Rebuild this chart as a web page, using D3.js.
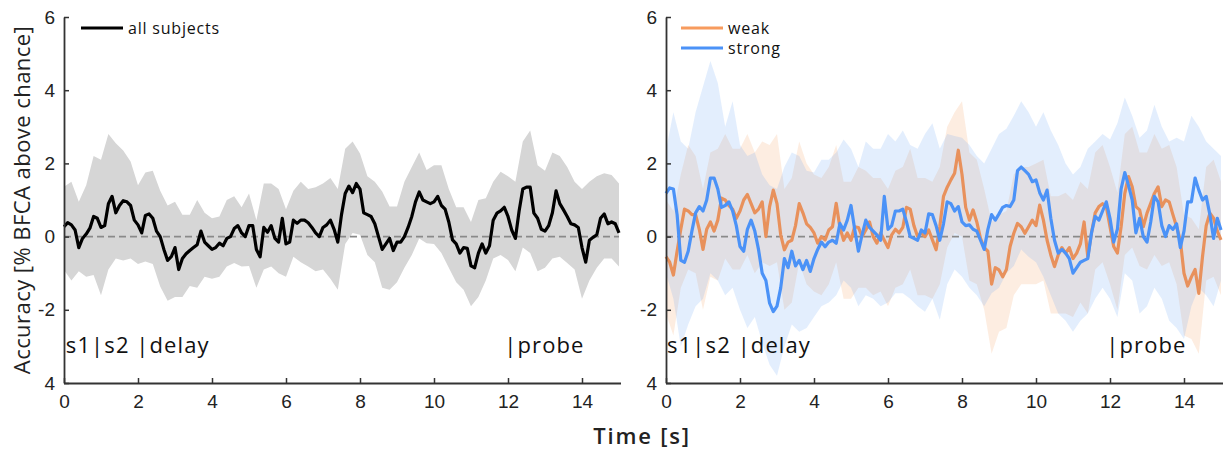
<!DOCTYPE html>
<html>
<head>
<meta charset="utf-8">
<script src="https://cdn.jsdelivr.net/npm/d3@7"></script>
<style>
  body { margin: 0; background: #fff; }
  svg { font-family: "Open Sans", "Noto Sans", sans-serif; }
  .tick text { fill: #222; }
</style>
</head>
<body>
<script>
// time grid: lines every 0.1 s, bands every 0.2 s
const lineTimes = d3.range(0, 151).map(i => i / 10);
const bandTimes = d3.range(0, 76).map(i => i / 5);

const xTicks = [0, 2, 4, 6, 8, 10, 12, 14];
const yTicks = [-4, -2, 0, 2, 4, 6];
const yTickLabels = ['4', '-2', '0', '2', '4', '6'];

// left panel: all subjects
const allMean = [
  0.27, 0.38, 0.32, 0.18, -0.3, -0.05, 0.07, 0.23, 0.55, 0.5,
  0.25, 0.3, 0.9, 1.1, 0.65, 0.85, 0.98, 0.95, 0.85, 0.45,
  0.32, 0.1, 0.58, 0.62, 0.5, 0.15, 0.0, -0.35, -0.65, -0.55,
  -0.3, -0.9, -0.6, -0.47, -0.38, -0.3, -0.22, 0.15, -0.15, -0.25,
  -0.35, -0.3, -0.18, -0.25, -0.05, 0.0, 0.22, 0.3, 0.1, 0.0,
  0.3, 0.3, -0.35, -0.55, 0.25, 0.12, 0.3, -0.05, -0.15, 0.5,
  -0.2, -0.15, 0.45, 0.36, 0.45, 0.45, 0.38, 0.25, 0.1, 0.0,
  0.25, 0.32, 0.45, 0.2, -0.15, 0.6, 1.18, 1.38, 1.2, 1.45,
  1.3, 0.65, 0.6, 0.55, 0.35, 0.0, -0.35, -0.2, -0.05, -0.38,
  -0.15, -0.15, 0.0, 0.25, 0.55, 0.95, 1.22, 1.0, 0.95, 0.9,
  0.95, 1.1, 0.85, 0.75, 0.4, -0.09, -0.2, -0.45, -0.3, -0.32,
  -0.8, -0.85, -0.45, -0.2, -0.45, -0.25, 0.45, 0.64, 0.7, 0.8,
  0.55, 0.18, -0.05, 0.7, 1.3, 1.35, 1.35, 0.64, 0.5, 0.2,
  0.15, 0.3, 0.65, 1.25, 0.9, 0.73, 0.55, 0.35, 0.32, 0.25,
  -0.3, -0.7, -0.1, -0.02, 0.05, 0.5, 0.62, 0.35, 0.4, 0.35,
  0.1
];
const allUpper = [
  1.36, 1.5, 0.95, 1.4, 2.2, 2.1, 2.8, 2.55, 2.35, 2.05,
  1.4, 1.75, 1.8, 1.25, 0.85, 0.95, 0.6, 0.6, 1.0, 0.65,
  0.5, 0.55, 1.0, 1.1, 0.8, 1.18, 0.45, 1.45, 1.45, 1.3,
  0.75, 1.25, 1.5, 1.3, 1.35, 1.45, 1.6, 1.3, 2.4, 2.6,
  2.27, 1.65, 1.5, 1.23, 0.82, 0.82, 1.5, 1.9, 2.3, 1.82,
  1.95, 1.95, 1.3, 0.8, 0.8, 0.4, 1.0, 1.05, 1.5, 1.77,
  1.65, 1.5, 2.6, 2.9, 1.95, 1.8, 2.3, 2.2, 1.9, 1.5,
  1.3, 1.5, 1.65, 1.73, 1.68, 1.45
];
const allLower = [
  -0.91, -1.2, -0.95, -1.1, -1.05, -1.6, -0.9, -0.6, -0.65, -0.6,
  -0.75, -0.68, -0.75, -1.36, -1.75, -1.65, -1.65, -1.35, -1.4, -1.1,
  -1.15, -1.1, -0.82, -0.72, -0.82, -0.8, -1.4, -0.9, -0.82, -1.0,
  -1.1, -0.55, -0.7, -0.82, -0.95, -0.9, -1.15, -1.45, -0.2, 0.1,
  0.05, -0.5, -0.7, -1.4, -1.45, -1.25, -0.85, -0.5, -0.05, -0.18,
  -0.2, -0.45, -0.85, -1.25, -1.45, -1.9, -1.65, -1.2, -0.6, -0.5,
  -0.64, -0.95, -0.3, -0.45, -0.95, -0.85, -0.6, -0.55, -0.72, -0.9,
  -1.7, -1.2, -0.85, -0.6, -0.6, -0.82
];

// right panel: weak
const weakMean = [
  -0.55, -0.7, -1.05, -0.4, 0.2, 0.75, 0.7, 0.6, 0.6, 0.2,
  -0.35, 0.2, 0.4, 0.15, 0.45, 1.05, 1.0, 0.85, 0.75, 0.5,
  0.7, 1.0, 1.15, 0.9, 0.65, 0.75, 0.95, 0.0, 0.82, 1.27,
  0.9, 0.05, -0.36, -0.15, -0.1, 0.3, 0.9, 0.65, 0.35, 0.25,
  0.1, -0.18, 0.0, -0.09, 0.18, 0.27, 0.91, 0.25, -0.1, 0.1,
  -0.1, 0.27, 0.25, 0.0, 0.18, 0.4, 0.0, -0.18, 0.1, -0.1,
  -0.3, 0.05, 0.2, 0.1, 0.25, 0.8, 0.75, 0.3, 0.0, 0.1,
  0.0, 0.18, -0.09, -0.36, 0.27, 1.1, 1.35, 1.55, 1.73, 2.36,
  1.7, 0.8, 0.45, 0.73, 0.4, -0.05, -0.3, -0.4, -1.3, -0.85,
  -0.91, -1.1, -0.9, -0.27, 0.09, 0.36, 0.27, 0.09, 0.27, 0.45,
  0.3, 0.86, 0.45, -0.1, -0.5, -0.82, -0.5, -0.3, -0.45, -0.3,
  -0.6, -0.45, -0.2, 0.4, -0.55, 0.1, 0.65, 0.82, 0.9, 0.82,
  0.27, -0.27, -0.45, 0.27, 1.18, 1.64, 1.36, 0.82, 0.73, 0.27,
  0.64, 0.91, 1.18, 1.36, 0.82, 1.0, 0.95, 0.6, 0.27, -0.1,
  -1.0, -1.35, -1.1, -0.9, -1.55, -0.55, 0.3, 0.64, 0.5, 0.15,
  -0.09
];
const weakUpper = [
  1.0, 0.7, 1.7, 2.5, 2.2, 1.3, 2.3, 2.4, 2.8, 2.4,
  2.4, 2.8, 2.3, 2.6, 2.5, 2.8, 1.3, 1.6, 2.6, 2.0,
  1.7, 1.6, 1.9, 2.5, 1.5, 1.5, 1.9, 1.8, 1.6, 1.6,
  1.3, 1.8, 1.9, 2.4, 1.6, 1.6, 1.5, 1.9, 3.0, 3.4,
  3.7, 2.3, 2.1, 1.3, 0.4, 0.6, 0.7, 1.7, 1.9, 1.9,
  2.0, 2.1, 1.1, 1.1, 1.2, 1.0, 1.5, 1.3, 2.3, 2.5,
  1.9, 1.2, 2.8, 3.0, 2.3, 2.3, 2.8, 2.4, 2.5, 1.9,
  0.6, 0.5, 0.2, 1.9, 2.1, 1.5
];
const weakLower = [
  -2.1, -2.7, -1.4, -0.9, -1.0, -2.0, -1.1, -1.2, -0.6, -0.9,
  -0.9, -0.5, -1.0, -0.7, -0.8, -0.7, -2.0, -1.8, -0.7, -1.3,
  -1.5, -1.6, -1.3, -0.7, -1.7, -1.7, -1.4, -1.4, -1.6, -1.5,
  -1.9, -1.4, -1.3, -0.9, -1.6, -1.6, -1.7, -1.3, -0.3, 0.1,
  0.0, -1.2, -1.3, -2.0, -3.2, -2.6, -2.5, -1.6, -1.3, -1.3,
  -1.3, -1.2, -2.1, -2.1, -2.1, -2.2, -1.8, -2.1, -0.9, -0.7,
  -1.3, -2.0, -0.5, -0.3, -0.8, -0.9, -0.5, -0.8, -0.7, -1.3,
  -2.7, -2.8, -3.2, -1.2, -1.1, -1.6
];

// right panel: strong
const strongMean = [
  1.18, 1.33, 1.3, 0.6, -0.65, -0.7, -0.4, 0.15, 0.65, 0.82,
  0.7, 1.0, 1.6, 1.6, 1.3, 0.8, 0.85, 0.95, 0.7, 0.3,
  -0.27, -0.4, 0.2, 0.45, 0.15, -0.35, -1.0, -1.2, -1.82, -2.05,
  -1.9, -1.4, -0.6, -0.85, -0.4, -0.8, -0.65, -0.9, -0.65, -0.95,
  -0.6, -0.35, -0.15, -0.28, -0.15, -0.1, -0.18, 0.36, 0.18, 0.45,
  0.85, 0.2, -0.4, 0.05, 0.45, 0.25, 0.15, 0.05, -0.1, 1.1,
  0.2, 0.3, 0.7, 0.7, 0.75, 0.4, 0.0, -0.05, -0.1, 0.18,
  0.1, 0.62, 0.6, 0.3, -0.1, 0.35, 0.95, 0.9, 0.7, 0.82,
  0.4, 0.3, 0.32, 0.2, 0.15, -0.1, -0.35, 0.2, 0.6, 0.45,
  0.62, 0.8, 0.85, 0.82, 1.0, 1.8, 1.9, 1.8, 1.7, 1.5,
  1.55, 1.2, 1.0, 1.27, 0.5, -0.1, -0.45, -0.35, -0.45, -0.6,
  -1.0, -0.85, -0.7, -0.65, -0.6, 0.1, 0.55, 0.45, 0.7, 0.95,
  0.5, -0.15, 0.2, 1.3, 1.75, 1.4, 1.0, 0.1, 0.5, 0.0,
  -0.15, 0.4, 1.1, 0.95, 0.3, 0.0, 0.3, 0.2, 0.35, -0.3,
  0.15, 0.95, 0.95, 1.6, 1.27, 1.0, 1.1, 0.6, -0.05, 0.5,
  0.18
];
const strongUpper = [
  2.36, 3.4, 2.6, 2.4, 3.4, 4.1, 4.8, 4.2, 3.0, 3.7,
  2.5, 2.2, 2.3, 1.7, 1.4, 1.3, 1.9, 2.3, 2.2, 1.8,
  1.75, 2.1, 2.1, 2.3, 2.65, 2.4, 1.9, 2.6, 2.4, 2.4,
  2.8, 2.6, 2.9, 2.5, 2.4, 2.8, 3.1, 2.4, 2.8, 2.75,
  2.7, 2.5, 2.2, 2.0, 2.4, 2.8, 2.95, 3.3, 3.7, 3.4,
  3.0, 3.4, 2.9, 2.5, 2.0, 1.7, 1.9, 2.4, 2.6, 2.8,
  2.65, 3.1, 3.8, 3.3, 2.7, 2.9, 3.6, 3.0, 2.6, 2.7,
  2.6, 3.3, 3.0, 2.6, 2.4, 2.2
];
const strongLower = [
  -1.0, -1.7, -3.0, -2.4, -1.9, -1.7, -1.0, -1.2, -1.6, -1.4,
  -2.0, -2.5, -2.2, -2.9, -3.5, -3.8, -3.0, -2.4, -2.6, -2.5,
  -2.2, -1.9, -1.8, -1.6, -1.2, -1.4, -1.9, -1.6, -1.7, -1.9,
  -1.8, -1.55, -1.55, -1.7, -1.9, -2.05, -1.7, -2.27, -1.3, -0.9,
  -1.1, -1.4, -1.6, -1.9, -1.55, -1.4, -1.0, -0.8, -0.35, -0.55,
  -0.7, -1.1, -1.6, -2.1, -2.3, -2.6, -2.3, -2.1, -1.7, -1.4,
  -1.7, -2.2, -1.0, -1.2, -2.1, -1.9, -1.4, -1.7, -2.3, -2.5,
  -2.8, -1.9, -1.4, -1.6, -1.9, -1.2
];

const W = 1223, H = 452;
const plotTop = 17, plotBottom = 383;

const svg = d3.select('body').append('svg')
  .attr('width', W)
  .attr('height', H);

function drawPanel(x0, x1, bands, lines, annotations) {
  const x = d3.scaleLinear().domain([0, 15]).range([x0, x1]);
  const y = d3.scaleLinear().domain([-4, 6]).range([plotBottom, plotTop]);
  const g = svg.append('g');

  bands.forEach((b) => {
    const pts = bandTimes.map((t, i) => ({ t: t, lo: b.lower[i], hi: b.upper[i] }));
    g.append('path')
      .datum(pts)
      .attr('d', d3.area().x(d => x(d.t)).y0(d => y(d.lo)).y1(d => y(d.hi)))
      .attr('fill', b.fill)
      .attr('fill-opacity', b.opacity);
  });

  g.append('line')
    .attr('x1', x(0)).attr('x2', x(15))
    .attr('y1', y(0)).attr('y2', y(0))
    .attr('stroke', '#8a8a8a')
    .attr('stroke-width', 1.6)
    .attr('stroke-dasharray', '7,4');

  lines.forEach((l) => {
    g.append('path')
      .datum(l.values.map((v, i) => [lineTimes[i], v]))
      .attr('d', d3.line().x(d => x(d[0])).y(d => y(d[1])))
      .attr('fill', 'none')
      .attr('stroke', l.color)
      .attr('stroke-width', 3.2)
      .attr('stroke-linejoin', 'round');
  });

  const xAxis = g.append('g')
    .attr('transform', `translate(0, ${plotBottom})`)
    .call(d3.axisBottom(x).tickValues(xTicks).tickSizeInner(-5).tickSizeOuter(0).tickPadding(12));
  xAxis.select('.domain').attr('d', `M${x0},0.5H${x1 + 2}`);

  const yAxis = g.append('g')
    .attr('transform', `translate(${x0}, 0)`)
    .call(d3.axisLeft(y).tickValues(yTicks).tickSizeInner(-5).tickSizeOuter(0).tickPadding(9)
      .tickFormat((d, i) => yTickLabels[i]));

  [xAxis, yAxis].forEach((a) => {
    a.selectAll('.domain').attr('stroke', '#333').attr('stroke-width', 1.8);
    a.selectAll('.tick line').attr('stroke', '#333').attr('stroke-width', 1.5);
    a.selectAll('.tick text').style('font-size', '19px').style('font-weight', '500');
  });

  annotations.forEach((a) => {
    g.append('text')
      .attr('x', x(a.t))
      .attr('y', 353)
      .style('font-size', '22px')
      .style('letter-spacing', '1.1px')
      .attr('fill', '#111')
      .text(a.label);
  });
  return { x: x, y: y };
}

drawPanel(64, 619,
  [{ upper: allUpper, lower: allLower, fill: '#d6d6d6', opacity: 1 }],
  [{ values: allMean, color: '#000' }],
  [{ t: 0.05, label: 's1|s2 |delay' }, { t: 11.9, label: '|probe' }]);

drawPanel(666, 1221,
  [{ upper: weakUpper, lower: weakLower, fill: '#f7a46a', opacity: 0.2 },
   { upper: strongUpper, lower: strongLower, fill: '#5a9bf6', opacity: 0.17 }],
  [{ values: weakMean, color: '#e8915c' }, { values: strongMean, color: '#4b92f7' }],
  [{ t: 0.03, label: 's1|s2 |delay' }, { t: 11.9, label: '|probe' }]);

// legends
const legends = [
  { x: 81, y: 28, label: 'all subjects', color: '#000' },
  { x: 681, y: 28, label: 'weak', color: '#f79b5e' },
  { x: 681, y: 48, label: 'strong', color: '#4b92f7' }
];
legends.forEach((l) => {
  svg.append('line')
    .attr('x1', l.x).attr('x2', l.x + 42)
    .attr('y1', l.y).attr('y2', l.y)
    .attr('stroke', l.color)
    .attr('stroke-width', 3.2);
  svg.append('text')
    .attr('x', l.x + 47)
    .attr('y', l.y + 6)
    .style('font-size', '16px')
    .style('letter-spacing', '0.8px')
    .style('font-weight', '500')
    .attr('fill', '#111')
    .text(l.label);
});

svg.append('text')
  .attr('transform', 'translate(30, 200) rotate(-90)')
  .attr('text-anchor', 'middle')
  .style('font-size', '22px')
  .style('letter-spacing', '0.45px')
  .attr('fill', '#222')
  .text('Accuracy [% BFCA above chance]');

svg.append('text')
  .attr('x', 642)
  .attr('y', 444)
  .attr('text-anchor', 'middle')
  .style('font-size', '22px')
  .style('letter-spacing', '1.8px')
  .style('font-weight', '600')
  .attr('fill', '#222')
  .text('Time [s]');
</script>
</body>
</html>
